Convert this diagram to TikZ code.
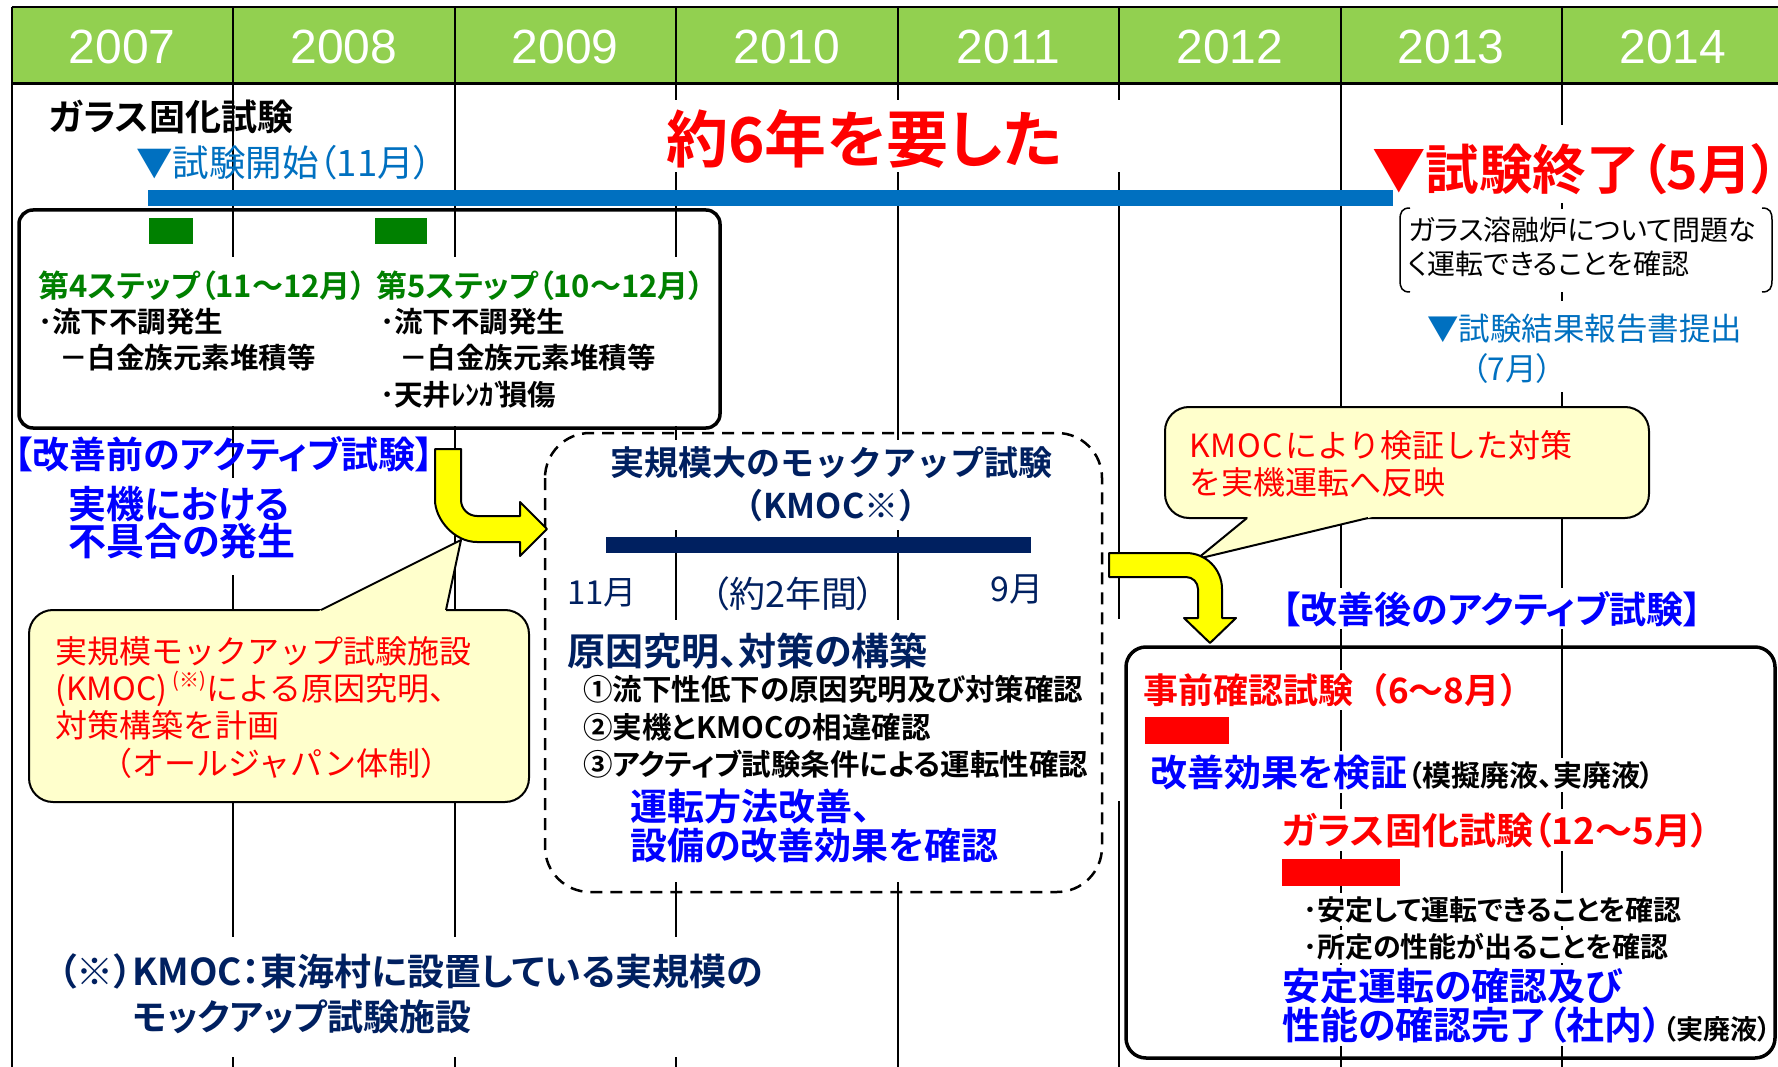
\documentclass[tikz,border=0pt]{standalone}
\usepackage{fontspec}
\newfontfamily\jp[RawFeature=+palt,BoldFont={Noto Sans CJK JP Bold}]{Noto Sans CJK JP}
\newfontfamily\jpm[BoldFont={Noto Sans CJK JP Bold}]{Noto Sans CJK JP}
\newfontfamily\arialf{Liberation Sans}
\newcommand\fsz[1]{\fontsize{#1pt}{#1pt}\selectfont}
\definecolor{hdrgreen}{HTML}{92D050}
\definecolor{midblue}{HTML}{0070C0}
\definecolor{brblue}{HTML}{0000FF}
\definecolor{navy}{HTML}{002060}
\definecolor{stepgreen}{HTML}{008000}
\definecolor{callfill}{HTML}{FFFFCC}
\definecolor{arrowyel}{HTML}{FFFF00}
\definecolor{redc}{HTML}{FF0000}
\tikzset{
  txt/.style={inner sep=0pt, anchor=base west},
  wtxt/.style={txt, fill=white, inner ysep=3pt},
  cover/.style={fill=white, draw=none},
  gridline/.style={line width=2pt, black},
  yarrow/.style={line width=2pt, draw=black, fill=arrowyel, line join=round},
  callbox/.style={line width=2pt, draw=black, fill=callfill, rounded corners=24pt},
}
\begin{document}
\begin{tikzpicture}[x=1pt,y=-1pt]
\useasboundingbox (0,0) rectangle (1778,1067);
\fill[white] (0,0) rectangle (1778,1067);
% header
\fill[hdrgreen] (11.5,7) rectangle (1778,84);
\foreach \i in {0,...,7} \draw[gridline] ({11.5+221.5*\i},7) -- ({11.5+221.5*\i},1067);
\draw[line width=1.5pt] (11.5,7) -- (1778,7);
\draw[line width=3pt] (11.5,84) -- (1778,84);
\foreach \yr [count=\i from 0] in {2007,2008,2009,2010,2011,2012,2013,2014}
  \node[inner sep=0pt, text=white, font=\arialf\fsz{48}] (yr\i) at ({122.25+221.5*\i},46.5) {\yr};
% covers (text boxes hiding the grid)
\fill[cover] (660,100) rectangle (1130,172);
\fill[cover] (21,257) rectangle (718,426);
\fill[cover] (60,478) rectangle (300,575);
\fill[cover] (50,937) rectangle (785,1057);
\fill[cover] (555,440) rectangle (1095,530);
\fill[cover] (555,620) rectangle (1095,882);
\fill[cover] (1370,125) rectangle (1776,203);
\fill[cover] (1395,209) rectangle (1776,292);
\fill[cover] (1420,301) rectangle (1760,392);
\fill[cover] (1106,619) rectangle (1124,801);
% bars
\fill[midblue] (148,190) rectangle (1393,206);
\fill[stepgreen] (149,218) rectangle (193,244);
\fill[stepgreen] (375,218) rectangle (427,244);
\fill[navy] (606,537) rectangle (1031,553);
% boxes
\draw[line width=3.5pt, rounded corners=14pt] (19,210) rectangle (720,428);
\draw[line width=2.5pt, dash pattern=on 12pt off 8pt, rounded corners=45pt] (545,433) rectangle (1102,892);
\draw[line width=3.5pt, rounded corners=20pt] (1126,647) rectangle (1775,1058);
% brackets
\draw[line width=1.5pt] (1410,208) .. controls (1402,208) and (1400,212) .. (1400,220) -- (1400,280) .. controls (1400,288) and (1402,292) .. (1410,292);
\draw[line width=1.5pt] (1762,208) .. controls (1770,208) and (1772,212) .. (1772,220) -- (1772,280) .. controls (1772,288) and (1770,292) .. (1762,292);
% callout 1
\draw[callbox] (29,610) rectangle (529,802);
\fill[callfill] (315,613) -- (461,540) -- (445.4,613) -- cycle;
\draw[line width=2pt, line join=round] (321,610) -- (461,540) -- (446,610);
% callout 2
\draw[callbox] (1165,407) rectangle (1649,518);
\fill[callfill] (1250.7,515) -- (1197,559) -- (1380.5,515) -- cycle;
\draw[line width=2pt, line join=round] (1247,518) -- (1197,559) -- (1368,518);
% yellow arrows
\draw[yarrow] (435,449) -- (461,449) -- (461,500) .. controls (461,508.8) and (468.2,516) .. (477,516) -- (520,516) -- (520,502) -- (547,529) -- (520,556) -- (520,542) -- (477,542) .. controls (453.8,542) and (435,518.8) .. (435,500) -- cycle;
\draw[yarrow] (1109,553) -- (1186,553) .. controls (1205.9,553) and (1222,569.1) .. (1222,589) -- (1222,618) -- (1236,618) -- (1210,643) -- (1184,618) -- (1198,618) -- (1198,589) .. controls (1198,582.4) and (1192.6,577) .. (1186,577) -- (1109,577) -- cycle;
% top texts
\node[txt, font=\jp\bfseries\fsz{36}] (glass) at (49,131) {ガラス固化試験};
\node[txt, font=\jp\fsz{36.5}, text=midblue] (start) at (136,177) {▼試験開始（11月）};
\node[txt, font=\jp\bfseries\fsz{62}, text=redc] (six) at (666,163) {約6年を要した};
\node[txt, font=\jp\bfseries\fsz{53.5}, text=redc] (finish) at (1372,190) {▼試験終了（5月）};
\node[txt, font=\jp\fsz{28}] (gl1) at (1408,241) {ガラス溶融炉について問題な};
\node[txt, font=\jp\fsz{28}] (gl2) at (1408,275) {く運転できることを確認};
\node[txt, font=\jp\fsz{31.5}, text=midblue] (rep1) at (1427,341) {▼試験結果報告書提出};
\node[txt, font=\jp\fsz{31.5}, text=midblue] (rep2) at (1472,380) {（7月）};
% step box
\node[txt, font=\jp\bfseries\fsz{31}, text=stepgreen] (s4) at (38,298) {第4ステップ（11～12月）};
\node[txt, font=\jp\bfseries\fsz{31}, text=stepgreen] (s5) at (376,298) {第5ステップ（10～12月）};
\node[txt, font=\jp\bfseries\fsz{28.5}] (s4a) at (38,333) {･流下不調発生};
\node[txt, font=\jp\bfseries\fsz{28.5}] (s4b) at (59,368) {－白金族元素堆積等};
\node[txt, font=\jp\bfseries\fsz{28.5}] (s5a) at (380,333) {･流下不調発生};
\node[txt, font=\jp\bfseries\fsz{28.5}] (s5b) at (399,368) {－白金族元素堆積等};
\node[txt, font=\jpm\bfseries\fsz{28.5}] (s5c) at (380,405) {･天井ﾚﾝｶﾞ\kern-9pt 損傷};
% left texts
\node[txt, font=\jp\bfseries\fsz{37}, text=brblue] (before) at (14,468) {【改善前のアクティブ試験】};
\node[txt, font=\jp\bfseries\fsz{38}, text=brblue] (fail1) at (68,518) {実機における};
\node[txt, font=\jp\bfseries\fsz{38}, text=brblue] (fail2) at (68,555) {不具合の発生};
% callout 1 text
\node[txt, font=\jpm\fsz{32}, text=redc] (c1a) at (55,663) {実規模モックアップ試験施設};
\node[txt, font=\jpm\fsz{32}, text=redc] (c1b) at (55,700) {(KMOC)\,\raisebox{0.4em}{\fsz{20}(※)}による原因究明、};
\node[txt, font=\jpm\fsz{32}, text=redc] (c1c) at (55,737) {対策構築を計画};
\node[txt, font=\jpm\fsz{32}, text=redc] (c1d) at (100,775) {（オールジャパン体制）};
% KMOC box
\node[inner sep=0pt, anchor=base, font=\jpm\bfseries\fsz{34}, text=navy] (k1) at (831,475) {実規模大のモックアップ試験};
\node[inner sep=0pt, anchor=base, font=\jpm\bfseries\fsz{34}, text=navy] (k2) at (831,518) {（KMOC※）};
\node[txt, font=\jp\fsz{33}, text=navy] (m11) at (567,604) {11月};
\node[txt, font=\jp\fsz{36}, text=navy] (m2y) at (711,607) {（約2年間）};
\node[txt, font=\jp\fsz{34}, text=navy] (m9) at (990,601) {9月};
\node[txt, font=\jp\bfseries\fsz{38}, text=navy] (k3) at (567,665) {原因究明、対策の構築};
\node[txt, font=\jp\bfseries\fsz{29.5}] (k4) at (583,700) {①流下性低下の原因究明及び対策確認};
\node[txt, font=\jp\bfseries\fsz{29.5}] (k5) at (583,738) {②実機とKMOCの相違確認};
\node[txt, font=\jp\bfseries\fsz{29.5}] (k6) at (583,775) {③アクティブ試験条件による運転性確認};
\node[txt, font=\jp\bfseries\fsz{37}, text=brblue] (k7) at (630,820) {運転方法改善、};
\node[txt, font=\jp\bfseries\fsz{37}, text=brblue] (k8) at (630,859) {設備の改善効果を確認};
% callout 2 text
\node[txt, font=\jpm\fsz{32}, text=redc] (c2a) at (1189,457) {K\kern1pt M\kern1pt O\kern1pt C\kern2pt により検証した対策};
\node[txt, font=\jpm\fsz{32}, text=redc] (c2b) at (1189,494) {を実機運転へ反映};
% right box
\node[wtxt, font=\jp\bfseries\fsz{37}, text=brblue] (after) at (1282,623) {【改善後のアクティブ試験】};
\node[wtxt, font=\jpm\bfseries\fsz{35}, text=redc] (pre) at (1143,703) {事前確認試験（6～8月）};
\fill[redc] (1145,717) rectangle (1229,744);
\node[wtxt, font=\jp\bfseries\fsz{37}, text=brblue] (eff) at (1150,786) {改善効果を検証};
\node[wtxt, font=\jp\bfseries\fsz{29}] (effb) at (eff.base east) {（模擬廃液、実廃液）};
\node[wtxt, font=\jp\bfseries\fsz{37}, text=redc] (gla) at (1282,844) {ガラス固化試験（12～5月）};
\fill[redc] (1282,859) rectangle (1400,886);
\node[wtxt, font=\jp\bfseries\fsz{28}] (b1) at (1303,920) {･安定して運転できることを確認};
\node[wtxt, font=\jp\bfseries\fsz{28}] (b2) at (1303,957) {･所定の性能が出ることを確認};
\node[wtxt, font=\jp\bfseries\fsz{38}, text=brblue] (st1) at (1282,1000) {安定運転の確認及び};
\node[wtxt, font=\jp\bfseries\fsz{38}, text=brblue] (st2) at (1282,1039) {性能の確認完了（社内）};
\node[wtxt, font=\jp\bfseries\fsz{27}] (st3) at ([xshift=1pt]st2.base east) {（実廃液）};
% footnote
\node[txt, font=\jp\bfseries\fsz{37}, text=navy] (fn1) at (58,985) {（※）KMOC：東海村に設置している実規模の};
\node[txt, font=\jp\bfseries\fsz{36}, text=navy] (fn2) at (133,1030) {モックアップ試験施設};
\end{tikzpicture}
\end{document}
